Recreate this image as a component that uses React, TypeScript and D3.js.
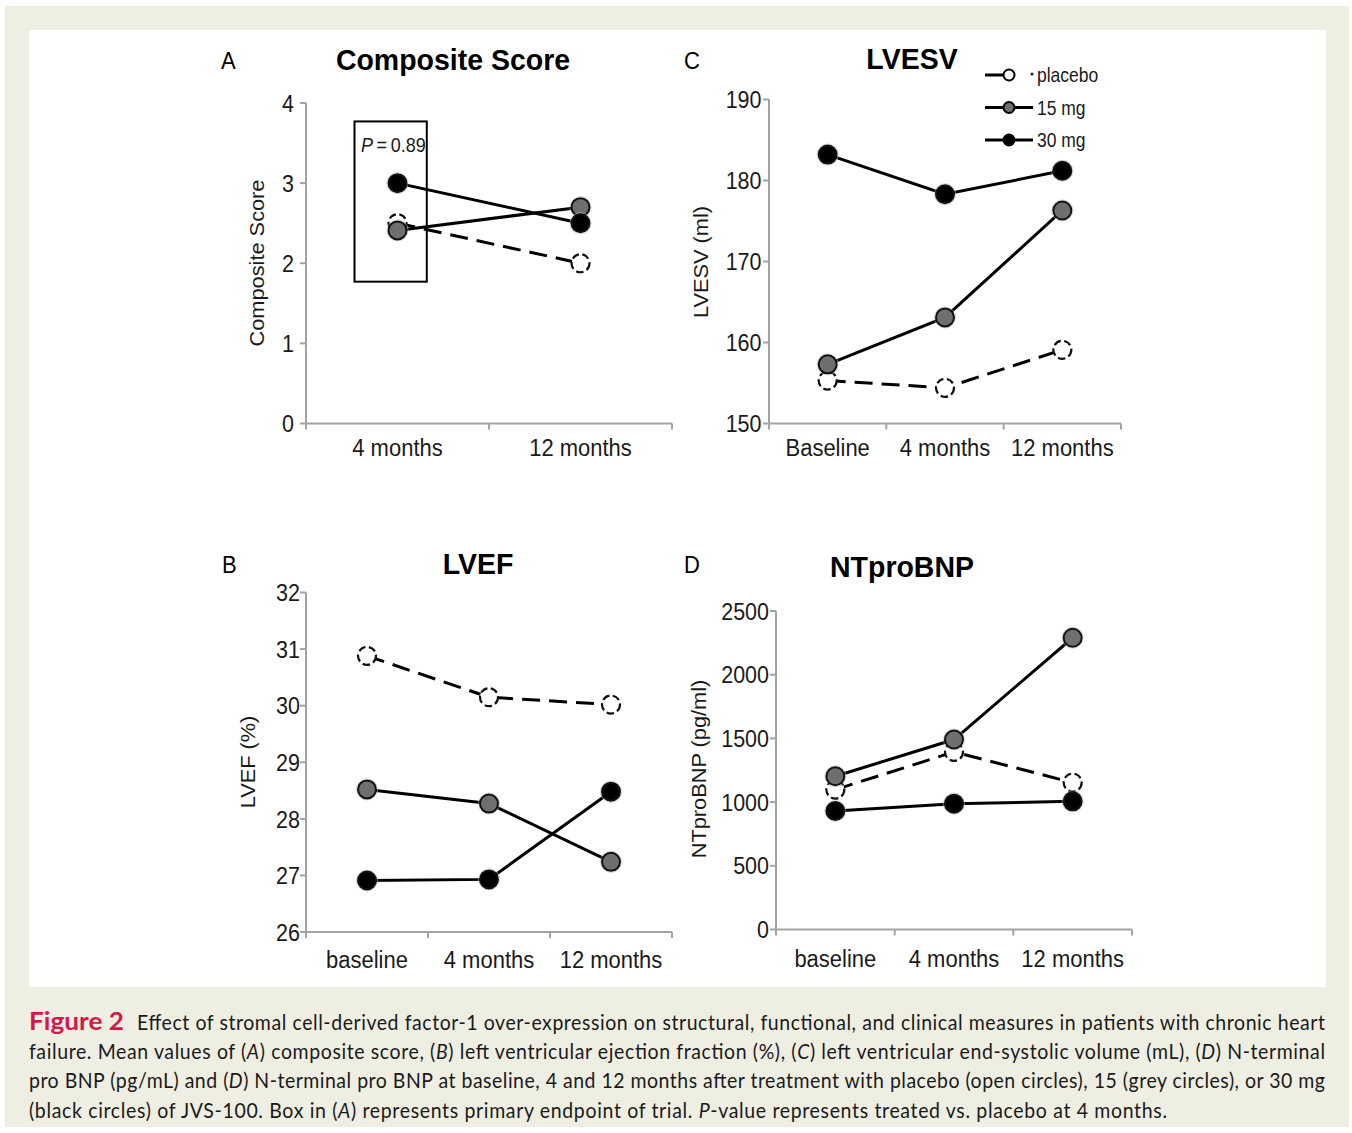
import React from "react";
import * as d3 from "d3";

// ---------- DATA ----------
const compositeCats = ["4 months", "12 months"];
const compositePlacebo = [2.5, 2.0];
const composite15 = [2.41, 2.7];
const composite30 = [3.0, 2.5];
const compositeTicks = [0, 1, 2, 3, 4];
const compositeBox = [1.77, 3.77];
const compositeP = "0.89";

const lvesvCats = ["Baseline", "4 months", "12 months"];
const lvesvPlacebo = [155.3, 154.4, 159.1];
const lvesv15 = [157.3, 163.1, 176.3];
const lvesv30 = [183.2, 178.3, 181.2];
const lvesvTicks = [150, 160, 170, 180, 190];

const lvefCats = ["baseline", "4 months", "12 months"];
const lvefPlacebo = [30.88, 30.15, 30.02];
const lvef15 = [28.52, 28.27, 27.24];
const lvef30 = [26.91, 26.93, 28.48];
const lvefTicks = [26, 27, 28, 29, 30, 31, 32];

const bnpCats = ["baseline", "4 months", "12 months"];
const bnpPlacebo = [1098, 1394, 1153];
const bnp15 = [1203, 1491, 2290];
const bnp30 = [930, 988, 1006];
const bnpTicks = [0, 500, 1000, 1500, 2000, 2500];

const legendLabels = ["placebo", "15 mg", "30 mg"];

// ---------- STYLE ----------
const FONT = "'Liberation Sans', Arial, Helvetica, sans-serif";
const AXIS = "#a3a3a3";
const GREY = "#6f6f6f";
const BEIGE = "#efeee3";
const SY = 1.12; // vertical stretch of the original figure's lettering

function VText({
  x,
  y,
  children,
  anchor = "start",
  size,
  weight,
  fill = "#1a1a1a",
  sy = SY,
  dy,
}: {
  x: number;
  y: number;
  children: React.ReactNode;
  anchor?: string;
  size: number;
  weight?: string;
  fill?: string;
  sy?: number;
  dy?: string;
}) {
  return (
    <text
      transform={`translate(${x},${y}) scale(1,${sy})`}
      textAnchor={anchor as any}
      fontSize={size}
      fontWeight={weight}
      fill={fill}
      dy={dy}
    >
      {children}
    </text>
  );
}

type PanelProps = {
  cats: string[];
  placebo: number[];
  s15: number[];
  s30: number[];
  ticks: number[];
  x0: number;
  x1: number;
  yTop: number;
  yBottom: number;
  tickPad: number;
  title: string;
  titleX: number;
  titleY: number;
  letter: string;
  letterX: number;
  letterY: number;
  ylabel: string;
  ylabelX: number;
  ylabelY: number;
  catY: number;
  extra?: (x: d3.ScaleBand<string>, y: d3.ScaleLinear<number, number>) => React.ReactNode;
};

function Marker({ cx, cy, kind, r = 9 }: { cx: number; cy: number; kind: number; r?: number }) {
  if (kind === 0) {
    return (
      <circle cx={cx} cy={cy} r={r} fill="#fff" stroke="#111" strokeWidth={2.2} strokeDasharray="7.5,3.5" />
    );
  }
  return (
    <g>
      <circle cx={cx} cy={cy} r={r + 1.6} fill="none" stroke="#bbb" strokeWidth={1} opacity={0.6} />
      <circle cx={cx} cy={cy} r={r} fill={kind === 1 ? GREY : "#000"} stroke="#111" strokeWidth={2} />
    </g>
  );
}

function Panel(p: PanelProps) {
  const x = d3.scaleBand<string>().domain(p.cats).range([p.x0, p.x1]);
  const domain = d3.extent(p.ticks) as [number, number];
  const y = d3.scaleLinear().domain(domain).range([p.yBottom, p.yTop]);
  const cx = (c: string) => (x(c) as number) + x.bandwidth() / 2;
  const line = d3
    .line<number>()
    .x((_, i) => cx(p.cats[i]))
    .y((v) => y(v));
  const series = [p.placebo, p.s15, p.s30];
  const boundaries = p.cats.map((c) => x(c) as number).concat([p.x1]);
  return (
    <g fontFamily={FONT}>
      {/* axes */}
      <line x1={p.x0} x2={p.x0} y1={y(domain[1])} y2={y(domain[0])} stroke={AXIS} strokeWidth={2} />
      <line x1={p.x0} x2={p.x1} y1={y(domain[0])} y2={y(domain[0])} stroke={AXIS} strokeWidth={2} />
      {p.ticks.map((t) => (
        <g key={"yt" + t}>
          <line x1={p.x0 - 6} x2={p.x0} y1={y(t)} y2={y(t)} stroke={AXIS} strokeWidth={2} />
          <VText x={p.x0 - p.tickPad} y={y(t)} dy="0.36em" anchor="end" size={21.5}>
            {t}
          </VText>
        </g>
      ))}
      {boundaries.map((b, i) => (
        <line key={"xt" + i} x1={b} x2={b} y1={y(domain[0])} y2={y(domain[0]) + 6} stroke={AXIS} strokeWidth={2} />
      ))}
      {p.cats.map((c) => (
        <VText key={"xc" + c} x={cx(c)} y={p.catY} anchor="middle" size={22}>
          {c}
        </VText>
      ))}
      {/* labels */}
      <VText x={p.titleX} y={p.titleY} anchor="middle" size={28.5} weight="bold" fill="#000" sy={1.02}>
        {p.title}
      </VText>
      <VText x={p.letterX} y={p.letterY} size={22} fill="#000" sy={1.08}>
        {p.letter}
      </VText>
      <text
        transform={`translate(${p.ylabelX},${p.ylabelY}) rotate(-90) scale(1.1,1)`}
        textAnchor="middle"
        fontSize={19.8}
        fill="#1a1a1a"
      >
        {p.ylabel}
      </text>
      {p.extra ? p.extra(x, y) : null}
      {/* series */}
      {series.map((s, k) => (
        <g key={"s" + k}>
          <path
            d={line(s) as string}
            fill="none"
            stroke="#000"
            strokeWidth={3}
            strokeDasharray={k === 0 ? "18,9" : undefined}
          />
          {s.map((v, i) => (
            <Marker key={i} cx={cx(p.cats[i])} cy={y(v)} kind={k} />
          ))}
        </g>
      ))}
    </g>
  );
}

function Legend({ x, y }: { x: number; y: number }) {
  const rowGap = 32.5;
  return (
    <g fontFamily={FONT}>
      {legendLabels.map((lab, k) => {
        const yy = y + k * rowGap;
        return (
          <g key={lab}>
            <line x1={x} x2={k === 0 ? x + 18 : x + 48} y1={yy} y2={yy} stroke="#000" strokeWidth={3} />
            <circle
              cx={x + 24}
              cy={yy}
              r={5.5}
              fill={k === 0 ? "#fff" : k === 1 ? GREY : "#000"}
              stroke="#000"
              strokeWidth={2}
            />
            {k === 0 ? <circle cx={x + 47} cy={yy - 1} r={1.6} fill="#222" /> : null}
            <VText x={x + 52} y={yy} dy="0.36em" size={17.5}>
              {lab}
            </VText>
          </g>
        );
      })}
    </g>
  );
}

const captionLines = [
  [
    { t: "Effect of stromal cell-derived factor-1 over-expression on structural, functional, and clinical measures in patients with chronic heart" },
  ],
  [
    { t: "failure. Mean values of (" },
    { t: "A", i: true },
    { t: ") composite score, (" },
    { t: "B", i: true },
    { t: ") left ventricular ejection fraction (%), (" },
    { t: "C", i: true },
    { t: ") left ventricular end-systolic volume (mL), (" },
    { t: "D", i: true },
    { t: ") N-terminal" },
  ],
  [
    { t: "pro BNP (pg/mL) and (" },
    { t: "D", i: true },
    { t: ") N-terminal pro BNP at baseline, 4 and 12 months after treatment with placebo (open circles), 15 (grey circles), or 30 mg" },
  ],
  [
    { t: "(black circles) of JVS-100. Box in (" },
    { t: "A", i: true },
    { t: ") represents primary endpoint of trial. " },
    { t: "P", i: true },
    { t: "-value represents treated vs. placebo at 4 months." },
  ],
];
const captionStarts = [137, 29, 29, 29];
const captionWidths = [1188, 1296, 1296, 1138];

export default function App() {
  return (
    <svg
      width={1352}
      height={1133}
      viewBox="0 0 1352 1133"
      style={{ position: "absolute", left: 0, top: 0, background: "#fff" }}
    >
      <rect x={5} y={6} width={1344} height={1121} fill={BEIGE} />
      <rect x={29} y={30} width={1297} height={957} fill="#fff" />

      <Panel
        cats={compositeCats}
        placebo={compositePlacebo}
        s15={composite15}
        s30={composite30}
        ticks={compositeTicks}
        x0={306}
        x1={672}
        yTop={103}
        yBottom={423.5}
        tickPad={12}
        title="Composite Score"
        titleX={453}
        titleY={70}
        letter="A"
        letterX={221}
        letterY={69}
        ylabel="Composite Score"
        ylabelX={264}
        ylabelY={263}
        catY={456}
        extra={(x, y) => {
          const x0 = x(compositeCats[0]) as number;
          const bw = x.bandwidth();
          return (
            <g>
              <rect
                x={x0 + 0.265 * bw}
                y={y(compositeBox[1])}
                width={0.395 * bw}
                height={y(compositeBox[0]) - y(compositeBox[1])}
                fill="none"
                stroke="#000"
                strokeWidth={2}
              />
              <VText x={x0 + 0.3 * bw} y={y(3.39)} size={18}>
                <tspan fontStyle="italic">P</tspan>
                <tspan>{"\u2009=\u2009" + compositeP}</tspan>
              </VText>
            </g>
          );
        }}
      />

      <Panel
        cats={lvesvCats}
        placebo={lvesvPlacebo}
        s15={lvesv15}
        s30={lvesv30}
        ticks={lvesvTicks}
        x0={769}
        x1={1121}
        yTop={99.5}
        yBottom={423.5}
        tickPad={7.5}
        title="LVESV"
        titleX={912}
        titleY={69}
        letter="C"
        letterX={684}
        letterY={69}
        ylabel="LVESV (ml)"
        ylabelX={708}
        ylabelY={262}
        catY={456}
      />
      <Legend x={985} y={75} />

      <Panel
        cats={lvefCats}
        placebo={lvefPlacebo}
        s15={lvef15}
        s30={lvef30}
        ticks={lvefTicks}
        x0={306}
        x1={672}
        yTop={592.5}
        yBottom={932}
        tickPad={6}
        title="LVEF"
        titleX={478}
        titleY={574}
        letter="B"
        letterX={222}
        letterY={573}
        ylabel="LVEF (%)"
        ylabelX={255}
        ylabelY={762}
        catY={968}
      />

      <Panel
        cats={bnpCats}
        placebo={bnpPlacebo}
        s15={bnp15}
        s30={bnp30}
        ticks={bnpTicks}
        x0={776}
        x1={1132}
        yTop={611}
        yBottom={929.5}
        tickPad={7}
        title="NTproBNP"
        titleX={902}
        titleY={577}
        letter="D"
        letterX={684}
        letterY={573}
        ylabel="NTproBNP (pg/ml)"
        ylabelX={706}
        ylabelY={769}
        catY={967}
      />

      {/* caption */}
      <g fontFamily="Lato, 'Open Sans', sans-serif" fill="#1a1a1a">
        <text
          transform="translate(29,1030) scale(1,1.02)"
          fontSize={24}
          fontWeight="bold"
          fill="#cf1a4a"
          textLength={95}
          lengthAdjust="spacingAndGlyphs"
        >
          Figure 2
        </text>
        {captionLines.map((ln, li) => (
          <text
            key={li}
            transform={`translate(${captionStarts[li]},${1030 + li * 29.2}) scale(1,1.1)`}
            fontSize={19.5}
            textLength={captionWidths[li]}
            lengthAdjust="spacing"
          >
            {ln.map((seg: any, si: number) => (
              <tspan key={si} fontStyle={seg.i ? "italic" : undefined}>
                {seg.t}
              </tspan>
            ))}
          </text>
        ))}
      </g>
    </svg>
  );
}
